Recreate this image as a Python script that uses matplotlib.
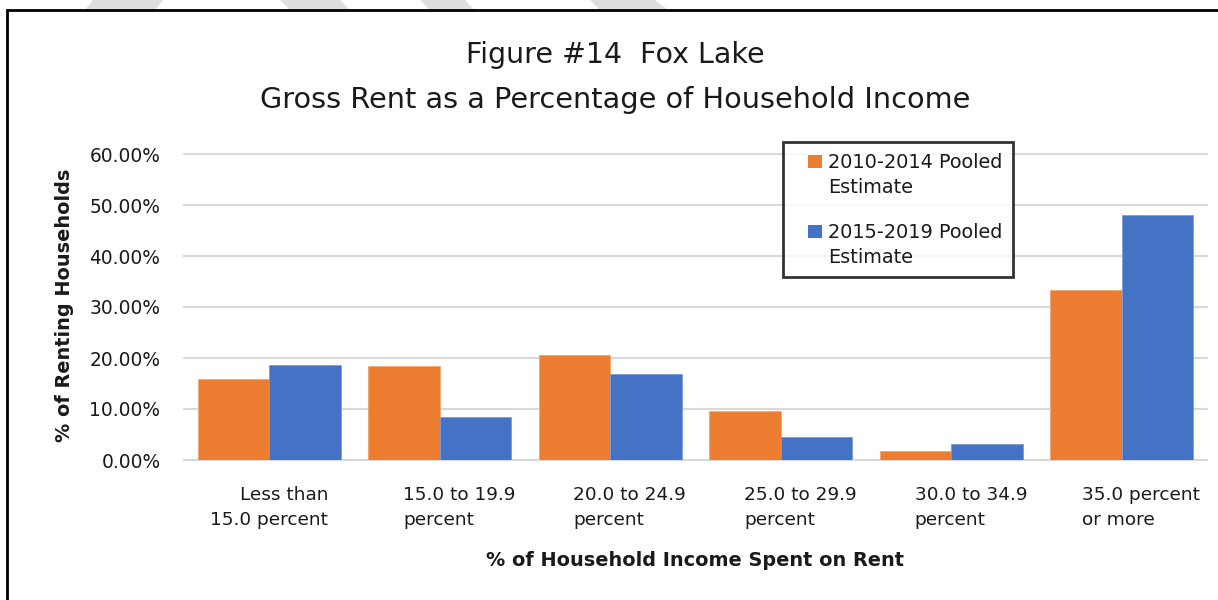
import matplotlib.pyplot as plt
import numpy as np
from matplotlib.patches import Rectangle, Polygon, Patch
from matplotlib.legend_handler import HandlerPatch
from matplotlib.ticker import FuncFormatter

plt.rcParams['font.family'] = ['DejaVu Sans']

# data
categories = ["Less than\n15.0 percent", "15.0 to 19.9\npercent", "20.0 to 24.9\npercent",
              "25.0 to 29.9\npercent", "30.0 to 34.9\npercent", "35.0 percent\nor more"]
label_align = ['right', 'left', 'left', 'left', 'left', 'left']
pooled_2010_2014 = [15.9, 18.4, 20.5, 9.6, 1.8, 33.3]
pooled_2015_2019 = [18.6, 8.4, 16.9, 4.5, 3.1, 48.0]
series_names = ["2010-2014 Pooled\nEstimate", "2015-2019 Pooled\nEstimate"]
yticks = [0, 10, 20, 30, 40, 50, 60]

ORANGE = '#ED7D31'
BLUE = '#4472C4'
GRID = '#d9d9d9'
TXT = '#1a1a1a'

W, H = 1218, 600
fig = plt.figure(figsize=(W / 100, H / 100), dpi=100)
ax = fig.add_axes([184 / W, 1 - 460 / H, (1207 - 184) / W, (460 - 154) / H])

x = np.arange(len(categories))
bw = 0.42
ax.bar(x - bw / 2, pooled_2010_2014, bw, color=ORANGE, edgecolor='#f4a670', linewidth=0.6, zorder=3)
ax.bar(x + bw / 2, pooled_2015_2019, bw, color=BLUE, edgecolor='#7d9bd6', linewidth=0.6, zorder=3)

ax.set_xlim(-0.5, len(categories) - 0.5)
ax.set_ylim(0, 60)
ax.set_yticks(yticks)
ax.yaxis.set_major_formatter(FuncFormatter(lambda v, p: f"{v:.2f}%"))
ax.grid(axis='y', color=GRID, linewidth=1.5, zorder=0)
for gl in ax.get_ygridlines():
    gl.set_clip_on(False)
for s in ['top', 'right', 'left']:
    ax.spines[s].set_visible(False)
ax.spines['bottom'].set_color(GRID)
ax.spines['bottom'].set_linewidth(1.5)
ax.tick_params(axis='both', length=0, labelsize=13.4, colors=TXT)
ax.tick_params(axis='y', pad=17)
ax.set_xticks([])

# category labels (Excel-style wrapped, slightly shifted)
shifts = [0.0, 0.115, 0.115, 0.115, 0.115, 0.11]
for i, (lab, al) in enumerate(zip(categories, label_align)):
    ax.text(i + shifts[i], -0.085, lab, transform=ax.get_xaxis_transform(), ha='center', va='top',
            multialignment=al, fontsize=13.3, color=TXT, linespacing=1.5)

fig.text(695 / W, 1 - 560 / H, "% of Household Income Spent on Rent", ha='center', va='center',
         fontsize=13.9, fontweight='bold', color=TXT)
fig.text(65 / W, 1 - 305 / H, "% of Renting Households", ha='center', va='center', rotation=90,
         fontsize=13.9, fontweight='bold', color=TXT)

fig.text(615 / W, 1 - 55 / H, "Figure #14  Fox Lake", ha='center', va='center', fontsize=20.5, color=TXT)
fig.text(615 / W, 1 - 100 / H, "Gross Rent as a Percentage of Household Income", ha='center', va='center',
         fontsize=20.7, color=TXT)


def top_square(legend, orig_handle, xdescent, ydescent, width, height, fontsize):
    # square swatch at the right end of the handle box, next to the first text line
    return Rectangle((-xdescent + width - height, -ydescent + 0.72 * fontsize), height, height)


handles = [Patch(facecolor=ORANGE), Patch(facecolor=BLUE)]
leg = fig.legend(handles, series_names, loc='upper left', bbox_to_anchor=(783 / W, 1 - 142 / H),
                 frameon=True, fancybox=False, edgecolor='black', fontsize=13.9, handlelength=1.45,
                 handleheight=0.72, handletextpad=0.35, labelspacing=1.35, borderpad=0.55,
                 borderaxespad=0, handler_map={Patch: HandlerPatch(patch_func=top_square)})
leg.get_frame().set_linewidth(2)
for t in leg.get_texts():
    t.set_color(TXT)
    t.set_linespacing(1.4)

# outer border of the chart object
fig.patches.append(Rectangle((7 / W, -0.1), 1.2, 1.1 - 10 / H, transform=fig.transFigure,
                             fill=False, edgecolor='black', linewidth=2, zorder=5))
# faint watermark fragments peeking above the border
for pts in [[(93, 0), (163, 0), (155, 10), (85, 10)],
            [(280, 0), (340, 0), (350, 10), (290, 10)],
            [(420, 0), (465, 0), (474, 10), (430, 10)],
            [(590, 0), (655, 0), (668, 10), (600, 10)]]:
    fig.patches.append(Polygon([(px / W, 1 - py / H) for px, py in pts], closed=True,
                               transform=fig.transFigure, facecolor='#dedede', edgecolor='none'))

fig.savefig('out.png', dpi=100)
